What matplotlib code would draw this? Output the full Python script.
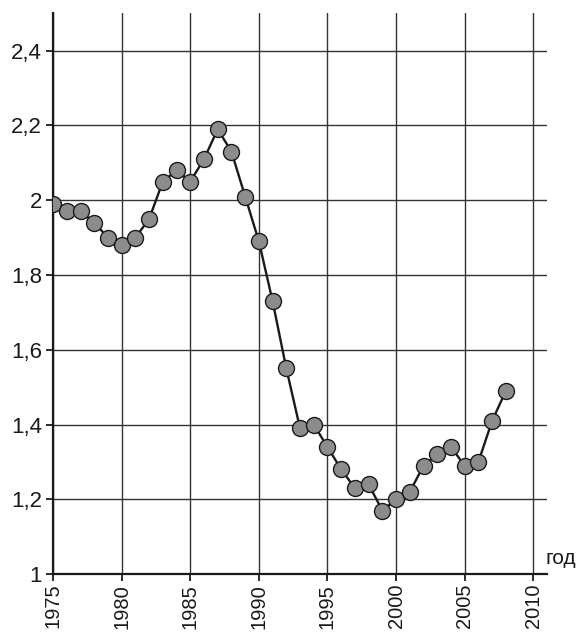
import matplotlib
matplotlib.use('Agg')
import matplotlib.pyplot as plt
import numpy as np

years = list(range(1975, 2009))
fertility = [1.99, 1.97, 1.97, 1.94, 1.90, 1.88, 1.90, 1.95, 2.05, 2.08,
             2.05, 2.11, 2.19, 2.13, 2.01, 1.89, 1.73, 1.55, 1.39, 1.40,
             1.34, 1.28, 1.23, 1.24, 1.17, 1.20, 1.22, 1.29, 1.32, 1.34,
             1.29, 1.30, 1.41, 1.49]
x_ticks = list(range(1975, 2011, 5))
y_ticks = [1.0, 1.2, 1.4, 1.6, 1.8, 2.0, 2.2, 2.4]
y_labels = ['1', '1,2', '1,4', '1,6', '1,8', '2', '2,2', '2,4']

plt.rcParams['font.family'] = ['Liberation Sans', 'DejaVu Sans']

fig = plt.figure(figsize=(5.77, 6.33), dpi=100)
ax = fig.add_axes([0.092, 0.093, 0.856, 0.886])

ax.plot(years, fertility, '-', color='#1a1a1a', linewidth=1.7, zorder=3)
ax.plot(years, fertility, 'o', markersize=11.5, markerfacecolor='#8c8c8c',
        markeredgecolor='#1a1a1a', markeredgewidth=1.0, zorder=4)

ax.set_xlim(1975, 2011)
ax.set_ylim(1.0, 2.5)
ax.set_xticks(x_ticks)
ax.set_xticklabels([str(y) for y in x_ticks], rotation=90)
ax.set_yticks(y_ticks)
ax.set_yticklabels(y_labels)
ax.grid(True, color='#333333', linewidth=1.0)
ax.set_axisbelow(True)

for side in ['top', 'right']:
    ax.spines[side].set_visible(False)
for side in ['left', 'bottom']:
    ax.spines[side].set_linewidth(1.6)
    ax.spines[side].set_color('#1a1a1a')
ax.tick_params(axis='both', length=5, width=1.3, color='#1a1a1a',
               labelcolor='#1a1a1a', pad=3)
ax.tick_params(axis='y', labelsize=16)
ax.tick_params(axis='x', labelsize=14.5, pad=2)

fig.text(0.946, 0.118, 'год', fontsize=15, color='#1a1a1a', ha='left', va='center')

fig.savefig('out.png', dpi=100)
